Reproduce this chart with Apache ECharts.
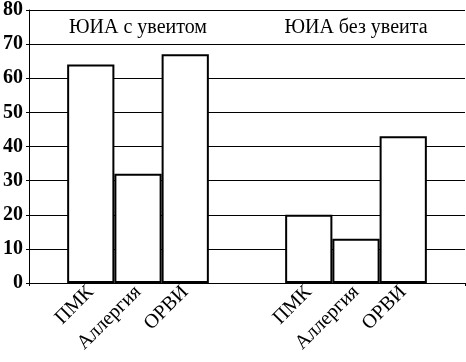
<!DOCTYPE html>
<html>
<head>
<meta charset="utf-8">
<script src="https://cdn.jsdelivr.net/npm/echarts@6/dist/echarts.min.js"></script>
<style>
  html, body { margin: 0; padding: 0; background: #fff; }
  #chart { width: 466px; height: 362px; }
</style>
</head>
<body>
<div id="chart"></div>
<script>
// Data
var groups = ['ЮИА с увеитом', 'ЮИА без увеита'];
var seriesNames = ['ПМК', 'Аллергия', 'ОРВИ'];
var pmk = [64, 20];
var allergy = [32, 13];
var orvi = [67, 43];
var yTicks = [0, 10, 20, 30, 40, 50, 60, 70, 80];

var FONT = 'Liberation Serif';
var values = [pmk, allergy, orvi];

function buildOption() {
  var series = seriesNames.map(function (name, i) {
    return {
      name: name, type: 'bar', data: values[i], barGap: '0%', barCategoryGap: '35%',
      itemStyle: { color: '#fff', borderColor: '#000', borderWidth: 2 },
      emphasis: { disabled: true },
      label: {
        show: true, position: 'bottom', distance: 6, rotate: 45,
        align: 'right', verticalAlign: 'middle',
        formatter: '{a}', fontFamily: FONT, fontSize: 20, color: '#000'
      }
    };
  });
  var xs = [
    {
      type: 'category', data: groups,
      axisLine: { lineStyle: { color: '#000', width: 1 } },
      axisTick: { show: true, length: 3, lineStyle: { color: '#000' }, interval: function (i) { return i === 0; } },
      axisLabel: { show: false }
    },
    {
      type: 'category', data: groups, position: 'top',
      axisLine: { show: false }, axisTick: { show: false },
      axisLabel: { show: true, interval: 0, inside: true, margin: 18, verticalAlign: 'middle',
        fontFamily: FONT, fontSize: 20, color: '#000' }
    }
  ];
  return {
    animation: false,
    backgroundColor: '#fff',
    grid: { left: 27, right: 1, top: 7, bottom: 79, containLabel: false },
    xAxis: xs,
    yAxis: {
      type: 'value', min: yTicks[0], max: yTicks[yTicks.length - 1], interval: 10,
      axisLine: { show: true, lineStyle: { color: '#000' } },
      axisTick: { show: true, length: 3, lineStyle: { color: '#000' } },
      axisLabel: { margin: 6, fontFamily: FONT, fontSize: 20, fontWeight: 'bold', color: '#000' },
      splitLine: { lineStyle: { color: '#000' } }
    },
    series: series
  };
}

echarts.init(document.getElementById('chart')).setOption(buildOption());
</script>
</body>
</html>
